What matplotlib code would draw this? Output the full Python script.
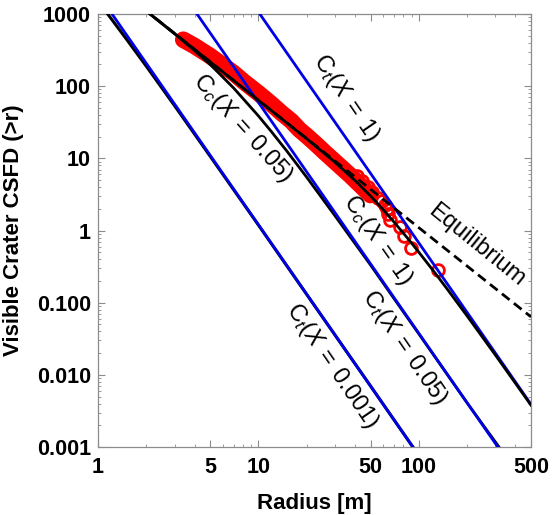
import numpy as np
import matplotlib
matplotlib.use("Agg")
import matplotlib.pyplot as plt
from matplotlib.ticker import LogLocator, NullFormatter

plt.rcParams['font.family'] = ['Liberation Sans', 'DejaVu Sans']
plt.rcParams['mathtext.fontset'] = 'custom'
plt.rcParams['mathtext.rm'] = 'Liberation Sans'
plt.rcParams['mathtext.it'] = 'Liberation Sans:italic'

# observed crater CSFD, dense part (reads as a solid band)
band_r = [3.4, 4, 5, 6, 7, 8, 9, 10, 12, 14, 16, 18, 20, 23, 26, 30, 34, 38, 42, 46, 50]
band_n = [440, 360, 262, 195, 152, 118, 96, 80, 57, 42, 33, 25, 20.5, 15.5, 12, 9, 7, 5.6, 4.5, 3.7, 3.1]

# largest craters, drawn as separate circles
big_r = [131, 89.4, 80.9, 76.4, 66.1, 64.3, 63.4, 61.5, 59, 55.7, 51.1, 48, 44, 41]
big_n = [0.284, 0.568, 0.852, 1.136, 1.42, 1.70, 1.99, 2.27, 2.56, 2.84, 3.41, 3.98, 4.83, 5.68]

# production curves Ct (straight lines, two points each)
ct_r = [1, 500]
ct_0001 = [1904, 4.4e-6]
ct_005 = [94270, 2.18e-4]
ct_1 = [1.69e6, 0.0039]

# equilibrium
eq_r = [1, 500]
eq_n = [3750, 0.0636]

# visible (equilibrium-limited) curves Cc
cc1_r = [2, 5, 10, 20, 30, 40, 50, 60, 70, 85, 100, 125, 150, 200, 300, 500]
cc1_n = [1099, 217, 63.7, 18.7, 8.83, 4.93, 3.01, 1.94, 1.31, 0.784, 0.50, 0.265, 0.155, 0.0653, 0.0188, 0.0038]

cc005_r = [2, 2.5, 3, 4, 5, 7, 10, 12, 15, 20, 30, 50, 70, 100, 200, 320]
cc005_n = [1099, 740, 533, 312, 200, 94.5, 38.7, 23.7, 12.7, 5.47, 1.60, 0.332, 0.114, 0.0369, 0.00408, 0.00096]

cc0001_r = [1, 1.15, 1.5, 2, 3, 5, 10, 20, 50, 100]
cc0001_n = [1492, 998, 452, 189, 53.7, 10.7, 1.19, 0.130, 0.0070, 0.00076]

xticks = [1, 5, 10, 50, 100, 500]
xticklabels = ['1', '5', '10', '50', '100', '500']
yticks = [0.001, 0.01, 0.1, 1, 10, 100, 1000]
yticklabels = ['0.001', '0.010', '0.100', '1', '10', '100', '1000']

fig = plt.figure(figsize=(5.54, 5.15), dpi=100)
ax = fig.add_axes([0.1769, 0.1320, 0.7816, 0.8408])
ax.set_xscale('log')
ax.set_yscale('log')

blue = '#0000e6'
lw = 2.0

# data
ax.plot(band_r, band_n, color='red', lw=12, solid_capstyle='round', zorder=1)
ax.plot(band_r + big_r, band_n + big_n, 'o', mfc='none', mec='red', mew=2, ms=8.5, zorder=2)

# model curves (black first, blue production lines on top)
ax.plot(cc0001_r, cc0001_n, color='black', lw=2.2, zorder=3)
ax.plot(cc005_r, cc005_n, color='black', lw=lw, zorder=3)
ax.plot(cc1_r, cc1_n, color='black', lw=lw, zorder=5)
ax.plot(eq_r, eq_n, color='black', lw=lw, dashes=(3.5, 2), zorder=5)
ax.plot(ct_r, ct_0001, color=blue, lw=lw, zorder=4)
ax.plot(ct_r, ct_005, color=blue, lw=lw, zorder=4)
ax.plot(ct_r, ct_1, color=blue, lw=lw, zorder=4)

# curve labels
lab_kw = dict(ha='center', va='center', rotation_mode='anchor', fontsize=17)
ax.text(35.2, 68.7, r'$\mathrm{C}_t(X\;=\;1)$', rotation=-55.6, **lab_kw)
ax.text(8.0, 26.4, r'$\mathrm{C}_c(X\;=\;0.05)$', rotation=-48, **lab_kw)
ax.text(55, 0.74, r'$\mathrm{C}_c(X\;=\;1)$', rotation=-55, **lab_kw)
ax.text(230, 0.63, 'Equilibrium', rotation=-39, **lab_kw)
ax.text(81, 0.0237, r'$\mathrm{C}_t(X\;=\;0.05)$', rotation=-55.6, **lab_kw)
ax.text(28.8, 0.0133, r'$\mathrm{C}_t(X\;=\;0.001)$', rotation=-55.6, **lab_kw)

ax.set_xlim(1, 500)
ax.set_ylim(0.001, 1000)

ax.set_xticks(xticks)
ax.set_xticklabels(xticklabels, fontsize=15.5, fontweight='bold')
ax.set_yticks(yticks)
ax.set_yticklabels(yticklabels, fontsize=15.5, fontweight='bold')
ax.xaxis.set_minor_locator(LogLocator(base=10, subs=np.arange(2, 10)))
ax.yaxis.set_minor_locator(LogLocator(base=10, subs=np.arange(2, 10)))
ax.xaxis.set_minor_formatter(NullFormatter())
ax.yaxis.set_minor_formatter(NullFormatter())

frame = '#8c8c8c'
for s in ax.spines.values():
    s.set_color(frame)
    s.set_linewidth(0.9)
ax.tick_params(which='both', direction='in', top=True, right=True, color=frame)
ax.tick_params(which='major', length=5, width=0.8)
ax.tick_params(which='minor', length=2.5, width=0.6)
ax.tick_params(axis='x', pad=7.5)
ax.tick_params(axis='y', pad=5)

fig.text(314.5 / 554, 1 - 504 / 515, 'Radius [m]', ha='center', va='center',
         fontsize=16, fontweight='bold')
fig.text(13.5 / 554, 1 - 230.5 / 515, 'Visible Crater CSFD (>r)', ha='center', va='center',
         rotation=90, fontsize=16, fontweight='bold')

fig.savefig('out.png', dpi=100)
